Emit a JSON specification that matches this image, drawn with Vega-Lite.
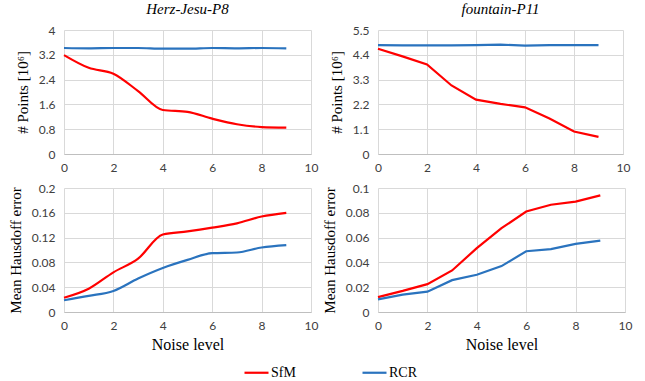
{
  "$schema": "https://vega.github.io/schema/vega-lite/v6.json",
  "padding": {"left": 8, "top": 2, "right": 5, "bottom": 0},
  "background": "white",
  "datasets": {
    "d": [
      {"panel": "hp", "x": 0, "series": "SfM", "y": 3.19},
      {"panel": "hp", "x": 1, "series": "SfM", "y": 2.78},
      {"panel": "hp", "x": 2, "series": "SfM", "y": 2.59},
      {"panel": "hp", "x": 3, "series": "SfM", "y": 2.03},
      {"panel": "hp", "x": 4, "series": "SfM", "y": 1.42},
      {"panel": "hp", "x": 5, "series": "SfM", "y": 1.36},
      {"panel": "hp", "x": 6, "series": "SfM", "y": 1.14},
      {"panel": "hp", "x": 7, "series": "SfM", "y": 0.96},
      {"panel": "hp", "x": 8, "series": "SfM", "y": 0.87},
      {"panel": "hp", "x": 9, "series": "SfM", "y": 0.85},
      {"panel": "hp", "x": 0, "series": "RCR", "y": 3.42},
      {"panel": "hp", "x": 1, "series": "RCR", "y": 3.41},
      {"panel": "hp", "x": 2, "series": "RCR", "y": 3.42},
      {"panel": "hp", "x": 3, "series": "RCR", "y": 3.42},
      {"panel": "hp", "x": 4, "series": "RCR", "y": 3.40},
      {"panel": "hp", "x": 5, "series": "RCR", "y": 3.40},
      {"panel": "hp", "x": 6, "series": "RCR", "y": 3.42},
      {"panel": "hp", "x": 7, "series": "RCR", "y": 3.41},
      {"panel": "hp", "x": 8, "series": "RCR", "y": 3.42},
      {"panel": "hp", "x": 9, "series": "RCR", "y": 3.41},
      {"panel": "fp", "x": 0, "series": "SfM", "y": 4.67},
      {"panel": "fp", "x": 1, "series": "SfM", "y": 4.33},
      {"panel": "fp", "x": 2, "series": "SfM", "y": 3.97},
      {"panel": "fp", "x": 3, "series": "SfM", "y": 3.04},
      {"panel": "fp", "x": 4, "series": "SfM", "y": 2.41},
      {"panel": "fp", "x": 5, "series": "SfM", "y": 2.22},
      {"panel": "fp", "x": 6, "series": "SfM", "y": 2.07},
      {"panel": "fp", "x": 7, "series": "SfM", "y": 1.57},
      {"panel": "fp", "x": 8, "series": "SfM", "y": 1.0},
      {"panel": "fp", "x": 9, "series": "SfM", "y": 0.76},
      {"panel": "fp", "x": 0, "series": "RCR", "y": 4.83},
      {"panel": "fp", "x": 1, "series": "RCR", "y": 4.82},
      {"panel": "fp", "x": 2, "series": "RCR", "y": 4.82},
      {"panel": "fp", "x": 3, "series": "RCR", "y": 4.82},
      {"panel": "fp", "x": 4, "series": "RCR", "y": 4.83},
      {"panel": "fp", "x": 5, "series": "RCR", "y": 4.85},
      {"panel": "fp", "x": 6, "series": "RCR", "y": 4.81},
      {"panel": "fp", "x": 7, "series": "RCR", "y": 4.83},
      {"panel": "fp", "x": 8, "series": "RCR", "y": 4.83},
      {"panel": "fp", "x": 9, "series": "RCR", "y": 4.83},
      {"panel": "he", "x": 0, "series": "SfM", "y": 0.023},
      {"panel": "he", "x": 1, "series": "SfM", "y": 0.0375},
      {"panel": "he", "x": 2, "series": "SfM", "y": 0.064},
      {"panel": "he", "x": 3, "series": "SfM", "y": 0.086},
      {"panel": "he", "x": 4, "series": "SfM", "y": 0.125},
      {"panel": "he", "x": 5, "series": "SfM", "y": 0.130},
      {"panel": "he", "x": 6, "series": "SfM", "y": 0.136},
      {"panel": "he", "x": 7, "series": "SfM", "y": 0.143},
      {"panel": "he", "x": 8, "series": "SfM", "y": 0.154},
      {"panel": "he", "x": 9, "series": "SfM", "y": 0.160},
      {"panel": "he", "x": 0, "series": "RCR", "y": 0.019},
      {"panel": "he", "x": 1, "series": "RCR", "y": 0.026},
      {"panel": "he", "x": 2, "series": "RCR", "y": 0.034},
      {"panel": "he", "x": 3, "series": "RCR", "y": 0.054},
      {"panel": "he", "x": 4, "series": "RCR", "y": 0.071},
      {"panel": "he", "x": 5, "series": "RCR", "y": 0.084},
      {"panel": "he", "x": 6, "series": "RCR", "y": 0.095},
      {"panel": "he", "x": 7, "series": "RCR", "y": 0.096},
      {"panel": "he", "x": 8, "series": "RCR", "y": 0.104},
      {"panel": "he", "x": 9, "series": "RCR", "y": 0.108},
      {"panel": "fe", "x": 0, "series": "SfM", "y": 0.012},
      {"panel": "fe", "x": 1, "series": "SfM", "y": 0.017},
      {"panel": "fe", "x": 2, "series": "SfM", "y": 0.0225},
      {"panel": "fe", "x": 3, "series": "SfM", "y": 0.0335},
      {"panel": "fe", "x": 4, "series": "SfM", "y": 0.0515},
      {"panel": "fe", "x": 5, "series": "SfM", "y": 0.0676},
      {"panel": "fe", "x": 6, "series": "SfM", "y": 0.081},
      {"panel": "fe", "x": 7, "series": "SfM", "y": 0.0865},
      {"panel": "fe", "x": 8, "series": "SfM", "y": 0.089},
      {"panel": "fe", "x": 9, "series": "SfM", "y": 0.094},
      {"panel": "fe", "x": 0, "series": "RCR", "y": 0.0102},
      {"panel": "fe", "x": 1, "series": "RCR", "y": 0.014},
      {"panel": "fe", "x": 2, "series": "RCR", "y": 0.0164},
      {"panel": "fe", "x": 3, "series": "RCR", "y": 0.0257},
      {"panel": "fe", "x": 4, "series": "RCR", "y": 0.030},
      {"panel": "fe", "x": 5, "series": "RCR", "y": 0.037},
      {"panel": "fe", "x": 6, "series": "RCR", "y": 0.049},
      {"panel": "fe", "x": 7, "series": "RCR", "y": 0.0507},
      {"panel": "fe", "x": 8, "series": "RCR", "y": 0.055},
      {"panel": "fe", "x": 9, "series": "RCR", "y": 0.0576}
    ]
  },
  "data": {"name": "d"},
  "columns": 2,
  "spacing": {"column": 67, "row": 34},
  "bounds": "flush",
  "concat": [
    {
      "width": 247, "height": 124,
      "title": {"text": "Herz-Jesu-P8"},
      "transform": [{"filter": "datum.panel == 'hp'"}],
      "mark": {"type": "line", "interpolate": "monotone", "strokeWidth": 2.2},
      "encoding": {
        "x": {"field": "x", "type": "quantitative", "scale": {"domain": [0, 10], "nice": false}, "axis": {"values": [0,2,4,6,8,10], "title": null}},
        "y": {"field": "y", "type": "quantitative", "scale": {"domain": [0, 4], "nice": false}, "axis": {"values": [0,0.8,1.6,2.4,3.2,4], "labelExpr": "toString(datum.value)", "title": "# Points [10⁶]"}},
        "color": {"field": "series", "type": "nominal", "scale": {"domain": ["SfM", "RCR"], "range": ["#FF0000", "#2A73BE"]}}
      }
    },
    {
      "width": 245, "height": 124,
      "title": {"text": "fountain-P11"},
      "transform": [{"filter": "datum.panel == 'fp'"}],
      "mark": {"type": "line", "interpolate": "linear", "strokeWidth": 2.2},
      "encoding": {
        "x": {"field": "x", "type": "quantitative", "scale": {"domain": [0, 10], "nice": false}, "axis": {"values": [0,2,4,6,8,10], "title": null}},
        "y": {"field": "y", "type": "quantitative", "scale": {"domain": [0, 5.5], "nice": false}, "axis": {"values": [0,1.1,2.2,3.3,4.4,5.5], "labelExpr": "toString(datum.value)", "title": "# Points [10⁶]"}},
        "color": {"field": "series", "type": "nominal", "scale": {"domain": ["SfM", "RCR"], "range": ["#FF0000", "#2A73BE"]}}
      }
    },
    {
      "width": 247, "height": 124,
      "transform": [{"filter": "datum.panel == 'he'"}],
      "mark": {"type": "line", "interpolate": "monotone", "strokeWidth": 2.2},
      "encoding": {
        "x": {"field": "x", "type": "quantitative", "scale": {"domain": [0, 10], "nice": false}, "axis": {"values": [0,2,4,6,8,10], "title": "Noise level"}},
        "y": {"field": "y", "type": "quantitative", "scale": {"domain": [0, 0.2], "nice": false}, "axis": {"values": [0,0.04,0.08,0.12,0.16,0.2], "labelExpr": "toString(datum.value)", "title": "Mean Hausdoff error"}},
        "color": {"field": "series", "type": "nominal", "scale": {"domain": ["SfM", "RCR"], "range": ["#FF0000", "#2A73BE"]}}
      }
    },
    {
      "width": 247, "height": 124,
      "transform": [{"filter": "datum.panel == 'fe'"}],
      "mark": {"type": "line", "interpolate": "linear", "strokeWidth": 2.2},
      "encoding": {
        "x": {"field": "x", "type": "quantitative", "scale": {"domain": [0, 10], "nice": false}, "axis": {"values": [0,2,4,6,8,10], "title": "Noise level"}},
        "y": {"field": "y", "type": "quantitative", "scale": {"domain": [0, 0.1], "nice": false}, "axis": {"values": [0,0.02,0.04,0.06,0.08,0.1], "labelExpr": "toString(datum.value)", "title": "Mean Hausdoff error"}},
        "color": {"field": "series", "type": "nominal", "scale": {"domain": ["SfM", "RCR"], "range": ["#FF0000", "#2A73BE"]}}
      }
    }
  ],
  "resolve": {"scale": {"x": "independent", "y": "independent", "color": "shared"}},
  "config": {
    "view": {"stroke": null},
    "title": {"font": "Liberation Serif, Times New Roman, serif", "fontStyle": "italic", "fontWeight": "normal", "fontSize": 15, "color": "#000000", "offset": 7},
    "axis": {
      "labelFont": "Lato", "labelFontSize": 12, "labelColor": "#404040",
      "titleFont": "Liberation Serif, Times New Roman, serif", "titleFontWeight": "normal", "titleFontSize": 15, "titleColor": "#000000",
      "grid": true, "gridColor": "#D9D9D9", "gridWidth": 1,
      "ticks": false, "domain": false, "labelPadding": 9, "labelFlush": false, "labelOverlap": false
    },
    "axisX": {"domain": true, "domainColor": "#BFBFBF", "titlePadding": 5, "labelPadding": 8, "titleFontSize": 16},
    "axisY": {"titlePadding": 8},
    "legend": {
      "orient": "none", "legendX": 179, "legendY": 329, "direction": "horizontal", "title": null,
      "symbolType": "stroke", "symbolSize": 576, "symbolStrokeWidth": 2.2,
      "labelFont": "Liberation Serif, Times New Roman, serif", "labelFontSize": 14, "labelColor": "#000000",
      "columnPadding": 62, "labelOffset": 1
    }
  }
}
